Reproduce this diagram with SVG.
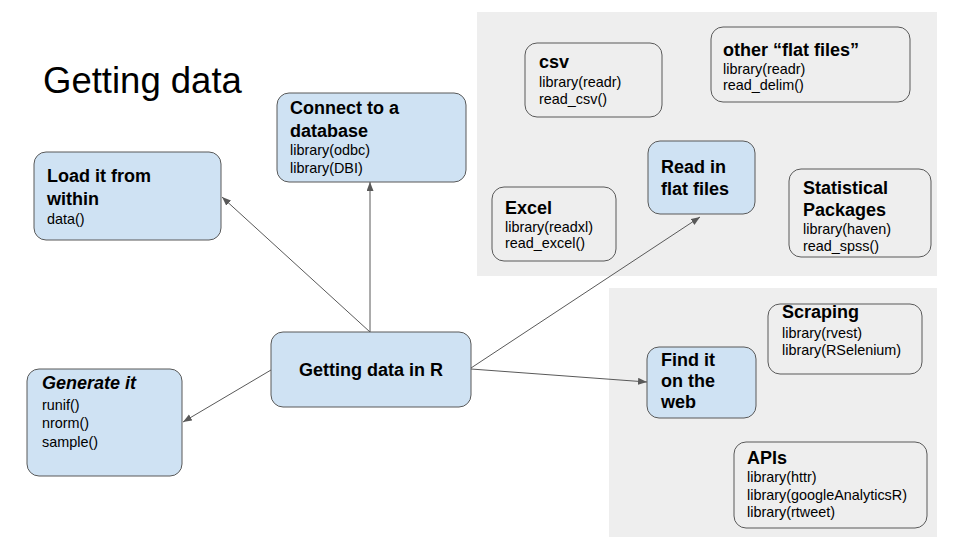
<svg xmlns="http://www.w3.org/2000/svg" width="960" height="540" viewBox="0 0 960 540">
<defs>
<marker id="arr" markerUnits="userSpaceOnUse" markerWidth="10" markerHeight="8" refX="9" refY="3.5" orient="auto">
<path d="M0,0 L9,3.5 L0,7 z" fill="#595959"/>
</marker>
<style>
text{font-family:"Liberation Sans",Arial,sans-serif;fill:#000}
.t{font-size:18px;font-weight:bold}
.s{font-size:14.4px}
.blue{fill:#cfe2f3;stroke:#595959;stroke-width:1}
.plain{fill:none;stroke:#595959;stroke-width:1}
.panel{fill:#eeeeee}
.conn line{stroke:#595959;stroke-width:1;marker-end:url(#arr)}
</style>
</defs>
<rect width="960" height="540" fill="#ffffff"/>
<rect class="panel" x="477" y="12" width="460" height="264"/>
<rect class="panel" x="609" y="288" width="328" height="249"/>
<text x="43" y="93" style="font-size:36.5px">Getting data</text>

<g class="conn">
<line x1="370" y1="332" x2="370" y2="182"/>
<line x1="370" y1="332" x2="222" y2="197"/>
<line x1="271" y1="370" x2="183" y2="422"/>
<line x1="471" y1="368" x2="700" y2="217"/>
<line x1="471" y1="369" x2="647" y2="382"/>
</g>

<g id="load">
<rect class="blue" x="34" y="152" width="187" height="88" rx="12"/>
<text class="t" x="47" y="182">Load it from</text>
<text class="t" x="47" y="205">within</text>
<text class="s" x="47" y="224">data()</text>
</g>

<g id="database">
<rect class="blue" x="277" y="93" width="189" height="89" rx="12"/>
<text class="t" x="290" y="114">Connect to a</text>
<text class="t" x="290" y="137">database</text>
<text class="s" x="290" y="155">library(odbc)</text>
<text class="s" x="290" y="173">library(DBI)</text>
</g>

<g id="center">
<rect class="blue" x="271" y="332" width="200" height="75" rx="12"/>
<text class="t" x="371" y="376" text-anchor="middle">Getting data in R</text>
</g>

<g id="generate">
<rect class="blue" x="27" y="369" width="155" height="107" rx="12"/>
<text class="t" x="42" y="389" font-style="italic">Generate it</text>
<text class="s" x="42" y="410">runif()</text>
<text class="s" x="42" y="428">nrorm()</text>
<text class="s" x="42" y="447">sample()</text>
</g>

<g id="csv">
<rect class="plain" x="525" y="43" width="137" height="74" rx="12"/>
<text class="t" x="539" y="68">csv</text>
<text class="s" x="539" y="87">library(readr)</text>
<text class="s" x="539" y="104">read_csv()</text>
</g>

<g id="otherflat">
<rect class="plain" x="711" y="27" width="199" height="75" rx="12"/>
<text class="t" x="723" y="56">other “flat files”</text>
<text class="s" x="723" y="74">library(readr)</text>
<text class="s" x="723" y="90">read_delim()</text>
</g>

<g id="excel">
<rect class="plain" x="492" y="187" width="124" height="74" rx="12"/>
<text class="t" x="505" y="214">Excel</text>
<text class="s" x="505" y="232">library(readxl)</text>
<text class="s" x="505" y="248">read_excel()</text>
</g>

<g id="readflat">
<rect class="blue" x="648" y="141" width="107" height="73" rx="12"/>
<text class="t" x="661" y="173">Read in</text>
<text class="t" x="661" y="195">flat files</text>
</g>

<g id="stat">
<rect class="plain" x="789" y="169" width="142" height="88" rx="12"/>
<text class="t" x="803" y="194">Statistical</text>
<text class="t" x="803" y="216">Packages</text>
<text class="s" x="803" y="234">library(haven)</text>
<text class="s" x="803" y="251">read_spss()</text>
</g>

<g id="scraping">
<rect class="plain" x="768" y="304" width="154" height="70" rx="12"/>
<text class="t" x="782" y="318">Scraping</text>
<text class="s" x="782" y="338">library(rvest)</text>
<text class="s" x="782" y="355">library(RSelenium)</text>
</g>

<g id="web">
<rect class="blue" x="647" y="347" width="109" height="71" rx="12"/>
<text class="t" x="661" y="366">Find it</text>
<text class="t" x="661" y="387">on the</text>
<text class="t" x="661" y="408">web</text>
</g>

<g id="apis">
<rect class="plain" x="734" y="442" width="193" height="86" rx="12"/>
<text class="t" x="747" y="464">APIs</text>
<text class="s" x="747" y="482">library(httr)</text>
<text class="s" x="747" y="500">library(googleAnalyticsR)</text>
<text class="s" x="747" y="517">library(rtweet)</text>
</g>
</svg>
